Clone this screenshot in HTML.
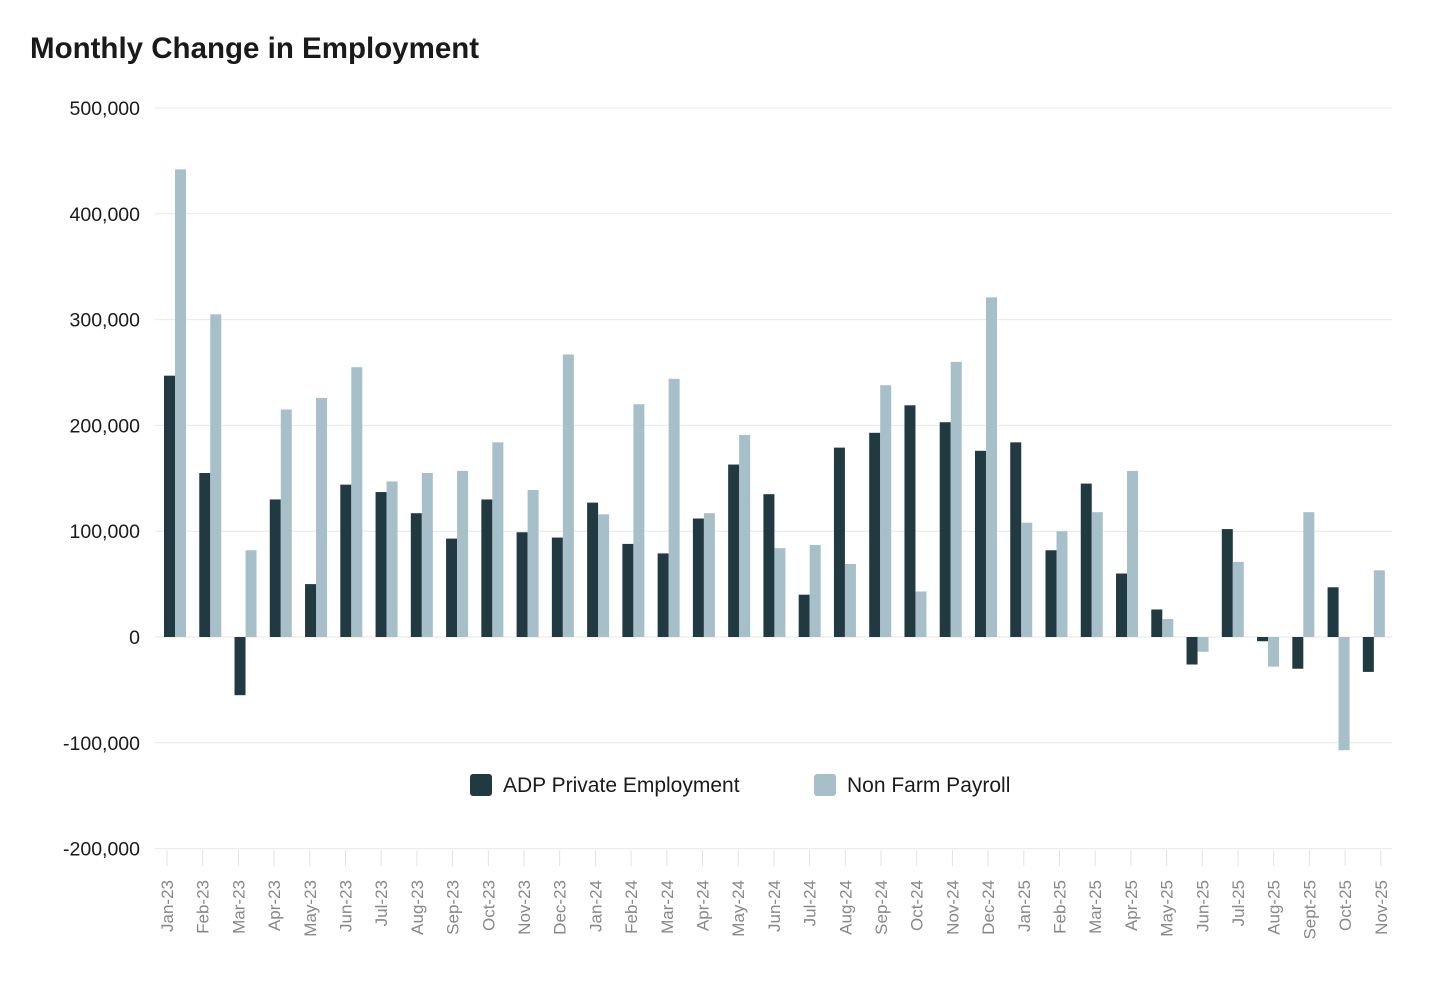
<!DOCTYPE html>
<html><head><meta charset="utf-8"><style>
body{margin:0;background:#fff;width:1444px;height:987px;overflow:hidden;font-family:"Liberation Sans",sans-serif}
</style></head><body>
<svg id="chart" width="1444" height="987" xmlns="http://www.w3.org/2000/svg">
<text x="30" y="58" font-size="29.5" font-weight="bold" fill="#1a1a1a">Monthly Change in Employment</text>
<g id="grid"></g><g id="bars"></g><g id="xlabels"></g>
<g>
<rect x="470" y="774" width="22" height="22" rx="3" fill="#213a41"/>
<text x="503" y="792" font-size="21" fill="#1a1a1a">ADP Private Employment</text>
<rect x="814" y="774" width="22" height="22" rx="3" fill="#a6bfc9"/>
<text x="847" y="792" font-size="21" fill="#1a1a1a">Non Farm Payroll</text>
</g>
</svg>
<script>
const categories=["Jan-23","Feb-23","Mar-23","Apr-23","May-23","Jun-23","Jul-23","Aug-23","Sep-23","Oct-23","Nov-23","Dec-23","Jan-24","Feb-24","Mar-24","Apr-24","May-24","Jun-24","Jul-24","Aug-24","Sep-24","Oct-24","Nov-24","Dec-24","Jan-25","Feb-25","Mar-25","Apr-25","May-25","Jun-25","Jul-25","Aug-25","Sept-25","Oct-25","Nov-25"];
const adp=[247,155,-55,130,50,144,137,117,93,130,99,94,127,88,79,112,163,135,40,179,193,219,203,176,184,82,145,60,26,-26,102,-4,-30,47,-33];
const nfp=[442,305,82,215,226,255,147,155,157,184,139,267,116,220,244,117,191,84,87,69,238,43,260,321,108,100,118,157,17,-14,71,-28,118,-107,63];
const yTicks=[500000,400000,300000,200000,100000,0,-100000,-200000];
const NS="http://www.w3.org/2000/svg";
const yk=v=>637-v*1.058;          // v in thousands
const yv=v=>yk(v/1000);           // v in raw units
const xb=i=>164+i*35.26;
const xt=i=>167+i*35.7;
function mk(t,a,p){const e=document.createElementNS(NS,t);for(const k in a)e.setAttribute(k,a[k]);p.appendChild(e);return e;}
const grid=document.getElementById('grid');
yTicks.forEach(t=>{
 const l=mk('line',{x1:155,x2:1392,y1:yv(t),y2:yv(t),stroke:'#e6e8e9','stroke-width':1},grid);
 
 
 const tx=mk('text',{x:140,y:yv(t)+7,'text-anchor':'end','font-size':19.5,fill:'#1a1a1a'},grid);
 tx.textContent=t.toLocaleString('en-US');
 
 
});
const bars=document.getElementById('bars');
const xl=document.getElementById('xlabels');
categories.forEach((c,i)=>{
 const a=adp[i],n=nfp[i];
 const r1=mk('rect',{x:xb(i),y:Math.min(yk(a),yk(0)),width:11,height:Math.abs(yk(a)-yk(0)),fill:'#213a41'},bars);
 
 
 const r2=mk('rect',{x:xb(i)+11,y:Math.min(yk(n),yk(0)),width:11,height:Math.abs(yk(n)-yk(0)),fill:'#a6bfc9'},bars);
 
 
 const tk=mk('line',{x1:xt(i),x2:xt(i),y1:850,y2:866,stroke:'#e0e3e4'},xl);
 
 
 const tx=mk('text',{x:0,y:0,'text-anchor':'end','font-size':17,fill:'#888',transform:`translate(${xt(i)+6},880) rotate(-90)`},xl);
 tx.textContent=c;
 
 
});
</script>
</body></html>
